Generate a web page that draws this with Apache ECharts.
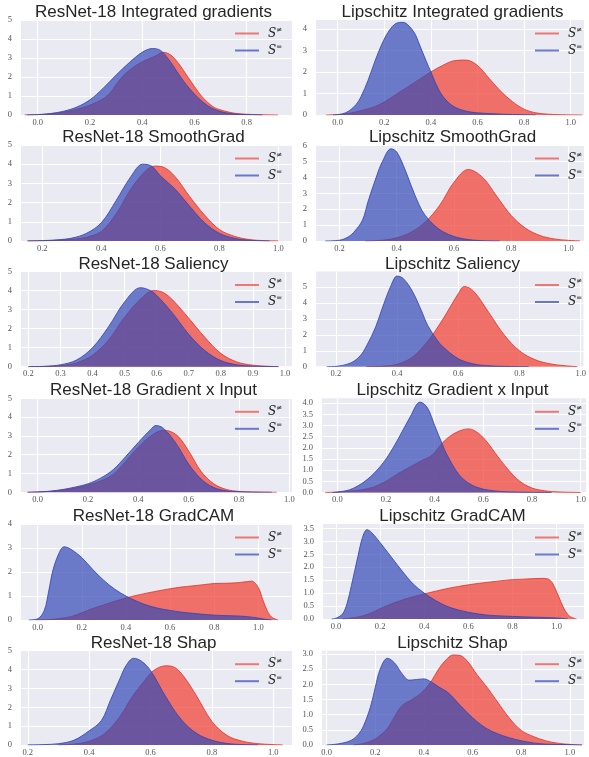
<!DOCTYPE html>
<html><head><meta charset="utf-8">
<script src="https://cdn.jsdelivr.net/npm/echarts@6/dist/echarts.min.js"></script>
<style>html,body{margin:0;padding:0;background:#fff}#c{width:589px;height:757px}</style>
</head><body><div id="c"></div>
<script>
// ---------- titles & legend ----------
const titles = ['ResNet-18 Integrated gradients', 'Lipschitz Integrated gradients',
  'ResNet-18 SmoothGrad', 'Lipschitz SmoothGrad', 'ResNet-18 Saliency', 'Lipschitz Saliency',
  'ResNet-18 Gradient x Input', 'Lipschitz Gradient x Input', 'ResNet-18 GradCAM', 'Lipschitz GradCAM',
  'ResNet-18 Shap', 'Lipschitz Shap'];
const S_NEQ = 'S≠', S_EQ = 'S=';

// ---------- tick labels ----------
const xt_00_08 = [0, 0.2, 0.4, 0.6, 0.8];
const xt_00_10 = [0, 0.2, 0.4, 0.6, 0.8, 1.0];
const xt_02_10 = [0.2, 0.4, 0.6, 0.8, 1.0];
const xt_02_10_fine = [0.2, 0.3, 0.4, 0.5, 0.6, 0.7, 0.8, 0.9, 1.0];
const yt_0_5 = [0, 1, 2, 3, 4, 5];
const yt_0_4 = [0, 1, 2, 3, 4];
const yt_0_6 = [0, 1, 2, 3, 4, 5, 6];
const yt_00_40 = [0, 0.5, 1, 1.5, 2, 2.5, 3, 3.5, 4];
const yt_00_35 = [0, 0.5, 1, 1.5, 2, 2.5, 3, 3.5];
const yt_00_30 = [0, 0.5, 1, 1.5, 2, 2.5, 3];

// ---------- series values (x = score, y = density) ----------
// ResNet-18 Integrated gradients
const rnIG_neq_x = [-0.05, 0, 0.05, 0.1, 0.15, 0.2, 0.25, 0.28, 0.3, 0.33, 0.36, 0.4, 0.45, 0.48, 0.51, 0.54, 0.57, 0.6, 0.63, 0.67, 0.7, 0.75, 0.8, 0.85, 0.92];
const rnIG_neq_y = [0, 0.02, 0.06, 0.15, 0.3, 0.52, 0.85, 1.2, 1.6, 2.1, 2.45, 2.8, 3.1, 3.3, 3.15, 2.7, 2.1, 1.5, 0.95, 0.45, 0.27, 0.1, 0.04, 0.015, 0];
const rnIG_eq_x = [-0.04, 0, 0.05, 0.1, 0.15, 0.2, 0.25, 0.3, 0.35, 0.4, 0.44, 0.47, 0.5, 0.53, 0.56, 0.6, 0.65, 0.7, 0.75, 0.8, 0.86];
const rnIG_eq_y = [0, 0.02, 0.08, 0.2, 0.42, 0.8, 1.4, 2.1, 2.75, 3.3, 3.5, 3.4, 2.95, 2.35, 1.75, 1.1, 0.5, 0.18, 0.06, 0.02, 0];
// Lipschitz Integrated gradients
const lpIG_neq_x = [-0.05, 0, 0.05, 0.1, 0.15, 0.2, 0.25, 0.3, 0.35, 0.4, 0.45, 0.5, 0.55, 0.6, 0.65, 0.7, 0.75, 0.8, 0.85, 0.9, 0.95, 1.05];
const lpIG_neq_y = [0, 0.02, 0.08, 0.2, 0.35, 0.6, 0.95, 1.3, 1.65, 2.0, 2.3, 2.52, 2.55, 2.3, 1.7, 1.1, 0.62, 0.27, 0.1, 0.04, 0.015, 0];
const lpIG_eq_x = [-0.02, 0.02, 0.05, 0.08, 0.1, 0.13, 0.16, 0.19, 0.22, 0.25, 0.28, 0.3, 0.33, 0.35, 0.38, 0.4, 0.43, 0.46, 0.5, 0.55, 0.6, 0.7, 0.8, 0.85];
const lpIG_eq_y = [0, 0.05, 0.2, 0.5, 0.85, 1.6, 2.5, 3.3, 3.9, 4.25, 4.3, 4.2, 3.8, 3.3, 2.5, 2.0, 1.25, 0.75, 0.38, 0.18, 0.1, 0.04, 0.01, 0];
// ResNet-18 SmoothGrad
const rnSG_neq_x = [0.15, 0.2, 0.25, 0.3, 0.35, 0.4, 0.45, 0.5, 0.55, 0.58, 0.61, 0.65, 0.7, 0.75, 0.8, 0.85, 0.9, 0.95, 1.0];
const rnSG_neq_y = [0, 0.01, 0.03, 0.08, 0.2, 0.5, 1.4, 2.7, 3.65, 3.9, 3.85, 3.35, 2.3, 1.35, 0.6, 0.25, 0.08, 0.02, 0];
const rnSG_eq_x = [0.15, 0.2, 0.25, 0.3, 0.35, 0.4, 0.45, 0.5, 0.54, 0.57, 0.6, 0.65, 0.7, 0.75, 0.8, 0.85, 0.9, 0.97];
const rnSG_eq_y = [0, 0.02, 0.06, 0.15, 0.4, 0.95, 2.1, 3.35, 4.0, 3.9, 3.4, 2.7, 1.8, 0.95, 0.4, 0.14, 0.04, 0];
// Lipschitz SmoothGrad
const lpSG_neq_x = [0.29, 0.35, 0.4, 0.45, 0.5, 0.55, 0.6, 0.65, 0.7, 0.75, 0.8, 0.85, 0.9, 0.95, 1.0, 1.04];
const lpSG_neq_y = [0, 0.05, 0.2, 0.55, 1.2, 2.25, 3.7, 4.5, 4.0, 2.8, 1.6, 0.8, 0.35, 0.13, 0.04, 0];
const lpSG_eq_x = [0.15, 0.2, 0.23, 0.25, 0.28, 0.3, 0.33, 0.35, 0.38, 0.4, 0.43, 0.45, 0.48, 0.5, 0.53, 0.56, 0.6, 0.65, 0.7, 0.76];
const lpSG_eq_y = [0, 0.05, 0.25, 0.55, 1.3, 2.5, 4.1, 5.0, 5.8, 5.6, 4.45, 3.5, 2.2, 1.6, 1.0, 0.6, 0.28, 0.09, 0.02, 0];
// ResNet-18 Saliency
const rnSal_neq_x = [0.2, 0.25, 0.3, 0.35, 0.4, 0.45, 0.5, 0.55, 0.59, 0.62, 0.65, 0.7, 0.75, 0.8, 0.85, 0.9, 0.95, 0.98];
const rnSal_neq_y = [0, 0.01, 0.05, 0.2, 0.6, 1.4, 2.6, 3.55, 4.0, 3.9, 3.5, 2.55, 1.55, 0.7, 0.25, 0.08, 0.02, 0];
const rnSal_eq_x = [0.2, 0.25, 0.3, 0.35, 0.4, 0.45, 0.5, 0.55, 0.58, 0.6, 0.65, 0.7, 0.75, 0.8, 0.85, 0.9, 0.98];
const rnSal_eq_y = [0, 0.02, 0.1, 0.35, 1.0, 2.1, 3.4, 4.15, 4.0, 3.75, 2.8, 1.7, 0.85, 0.32, 0.1, 0.03, 0];
// Lipschitz Saliency
const lpSal_neq_x = [0.3, 0.35, 0.4, 0.45, 0.5, 0.55, 0.6, 0.62, 0.65, 0.7, 0.75, 0.8, 0.85, 0.9, 0.95, 0.99];
const lpSal_neq_y = [0, 0.03, 0.15, 0.6, 1.6, 3.0, 4.6, 5.05, 4.75, 3.4, 2.0, 1.0, 0.45, 0.18, 0.06, 0];
const lpSal_eq_x = [0.17, 0.2, 0.25, 0.28, 0.3, 0.33, 0.35, 0.38, 0.4, 0.42, 0.45, 0.48, 0.5, 0.53, 0.55, 0.6, 0.65, 0.7, 0.75, 0.83];
const lpSal_eq_y = [0, 0.02, 0.25, 0.7, 1.3, 2.5, 3.6, 5.1, 5.7, 5.55, 4.75, 3.5, 2.6, 1.7, 1.25, 0.5, 0.17, 0.06, 0.02, 0];
// ResNet-18 Gradient x Input
const rnGxI_neq_x = [-0.04, 0, 0.05, 0.1, 0.15, 0.2, 0.25, 0.3, 0.35, 0.4, 0.45, 0.5, 0.53, 0.56, 0.6, 0.65, 0.7, 0.75, 0.8, 0.85, 0.95];
const rnGxI_neq_y = [0, 0.02, 0.05, 0.12, 0.22, 0.38, 0.6, 0.95, 1.65, 2.4, 3.0, 3.3, 3.22, 2.95, 2.2, 1.1, 0.45, 0.15, 0.05, 0.02, 0];
const rnGxI_eq_x = [-0.04, 0, 0.05, 0.1, 0.15, 0.2, 0.25, 0.3, 0.35, 0.4, 0.45, 0.47, 0.5, 0.55, 0.6, 0.65, 0.7, 0.75, 0.8, 0.85, 0.93];
const rnGxI_eq_y = [0, 0.02, 0.06, 0.15, 0.28, 0.45, 0.75, 1.2, 1.9, 2.65, 3.35, 3.55, 3.4, 2.6, 1.5, 0.7, 0.25, 0.08, 0.03, 0.01, 0];
// Lipschitz Gradient x Input
const lpGxI_neq_x = [-0.05, 0, 0.05, 0.1, 0.15, 0.2, 0.25, 0.3, 0.35, 0.38, 0.4, 0.43, 0.46, 0.5, 0.54, 0.58, 0.62, 0.65, 0.7, 0.75, 0.8, 0.85, 0.9, 1.0];
const lpGxI_neq_y = [0, 0.02, 0.06, 0.12, 0.25, 0.5, 0.85, 1.15, 1.45, 1.6, 1.8, 2.2, 2.5, 2.75, 2.85, 2.65, 2.2, 1.75, 1.05, 0.5, 0.2, 0.08, 0.03, 0];
const lpGxI_eq_x = [-0.02, 0, 0.05, 0.1, 0.15, 0.2, 0.25, 0.3, 0.34, 0.37, 0.4, 0.43, 0.45, 0.5, 0.55, 0.6, 0.65, 0.7, 0.8, 0.88];
const lpGxI_eq_y = [0, 0.02, 0.12, 0.4, 0.85, 1.5, 2.4, 3.4, 4.05, 3.8, 3.0, 2.2, 1.7, 0.8, 0.35, 0.15, 0.07, 0.03, 0.01, 0];
// ResNet-18 GradCAM
const rnCAM_neq_x = [-0.01, 0.05, 0.1, 0.15, 0.2, 0.25, 0.3, 0.35, 0.4, 0.45, 0.5, 0.55, 0.6, 0.65, 0.7, 0.75, 0.8, 0.85, 0.9, 0.95, 0.97, 1.0, 1.02, 1.04, 1.06, 1.09];
const rnCAM_neq_y = [0, 0.02, 0.06, 0.14, 0.3, 0.48, 0.63, 0.78, 0.92, 1.03, 1.13, 1.22, 1.3, 1.37, 1.42, 1.47, 1.52, 1.53, 1.55, 1.6, 1.62, 1.35, 0.85, 0.4, 0.12, 0];
const rnCAM_eq_x = [-0.04, 0, 0.03, 0.05, 0.07, 0.1, 0.12, 0.15, 0.2, 0.25, 0.3, 0.35, 0.4, 0.45, 0.5, 0.55, 0.6, 0.65, 0.7, 0.8, 0.9, 0.95, 1.0, 1.03, 1.06];
const rnCAM_eq_y = [0, 0.05, 0.4, 1.2, 2.1, 2.85, 3.05, 2.95, 2.6, 2.1, 1.65, 1.28, 1.0, 0.78, 0.6, 0.48, 0.4, 0.33, 0.28, 0.2, 0.17, 0.14, 0.08, 0.03, 0];
// Lipschitz GradCAM
const lpCAM_neq_x = [0.03, 0.1, 0.15, 0.2, 0.25, 0.3, 0.35, 0.4, 0.45, 0.5, 0.55, 0.6, 0.65, 0.7, 0.75, 0.8, 0.85, 0.9, 0.93, 0.96, 0.98, 1.0, 1.02, 1.04, 1.06, 1.09];
const lpCAM_neq_y = [0, 0.08, 0.2, 0.4, 0.58, 0.73, 0.86, 0.97, 1.07, 1.17, 1.25, 1.32, 1.38, 1.43, 1.48, 1.52, 1.54, 1.56, 1.57, 1.55, 1.4, 1.05, 0.65, 0.3, 0.1, 0];
const lpCAM_eq_x = [-0.02, 0, 0.03, 0.05, 0.07, 0.1, 0.12, 0.14, 0.16, 0.2, 0.25, 0.3, 0.35, 0.4, 0.45, 0.5, 0.55, 0.6, 0.65, 0.7, 0.8, 0.9, 1.0, 1.05];
const lpCAM_eq_y = [0, 0.03, 0.2, 0.6, 1.3, 2.45, 3.15, 3.45, 3.35, 2.95, 2.4, 1.85, 1.35, 1.0, 0.72, 0.5, 0.36, 0.26, 0.19, 0.14, 0.1, 0.07, 0.04, 0];
// ResNet-18 Shap
const rnShap_neq_x = [0.3, 0.35, 0.4, 0.45, 0.5, 0.54, 0.58, 0.61, 0.65, 0.68, 0.71, 0.75, 0.8, 0.85, 0.9, 0.95, 1.0, 1.03];
const rnShap_neq_y = [0, 0.05, 0.2, 0.6, 1.5, 2.55, 3.4, 3.95, 4.2, 4.1, 3.6, 2.6, 1.25, 0.5, 0.2, 0.07, 0.02, 0];
const rnShap_eq_x = [0.2, 0.25, 0.3, 0.35, 0.4, 0.44, 0.47, 0.5, 0.52, 0.545, 0.57, 0.6, 0.65, 0.7, 0.75, 0.8, 0.85, 0.9, 0.95];
const rnShap_eq_y = [0, 0.02, 0.07, 0.25, 0.75, 1.3, 2.4, 3.5, 4.2, 4.6, 4.45, 3.95, 2.55, 1.35, 0.62, 0.25, 0.08, 0.02, 0];
// Lipschitz Shap
const lpShap_neq_x = [0.11, 0.15, 0.2, 0.25, 0.28, 0.31, 0.34, 0.37, 0.4, 0.43, 0.46, 0.49, 0.52, 0.55, 0.58, 0.62, 0.66, 0.7, 0.75, 0.8, 0.85, 0.9, 0.95, 1.0, 1.05];
const lpShap_neq_y = [0, 0.05, 0.2, 0.55, 0.95, 1.3, 1.45, 1.6, 1.8, 2.1, 2.5, 2.8, 2.97, 2.95, 2.75, 2.3, 1.9, 1.45, 0.9, 0.48, 0.28, 0.14, 0.06, 0.02, 0];
const lpShap_eq_x = [0, 0.05, 0.1, 0.13, 0.15, 0.18, 0.2, 0.22, 0.25, 0.28, 0.31, 0.34, 0.37, 0.4, 0.43, 0.46, 0.5, 0.55, 0.6, 0.65, 0.7, 0.75, 0.8, 0.85, 0.9, 1.0, 1.05];
const lpShap_eq_y = [0, 0.04, 0.15, 0.35, 0.6, 1.25, 1.9, 2.5, 2.86, 2.7, 2.35, 2.14, 2.16, 2.18, 2.08, 1.92, 1.72, 1.3, 0.9, 0.58, 0.38, 0.24, 0.14, 0.07, 0.03, 0.01, 0];

// ---------- panel wiring (layout kept separate from data) ----------
const panels = [
  {neq:[rnIG_neq_x, rnIG_neq_y], eq:[rnIG_eq_x, rnIG_eq_y], xt:xt_00_08, yt:yt_0_5, xr:[-0.064, 0.9735], ymax:5, L:21, R:292, T:20, B:115},
  {neq:[lpIG_neq_x, lpIG_neq_y], eq:[lpIG_eq_x, lpIG_eq_y], xt:xt_00_10, yt:yt_0_4, xr:[-0.093, 1.057], ymax:4.41, L:316, R:584, T:20, B:115},
  {neq:[rnSG_neq_x, rnSG_neq_y], eq:[rnSG_eq_x, rnSG_eq_y], xt:xt_02_10, yt:yt_0_5, xr:[0.128, 1.046], ymax:5, L:21, R:292, T:145, B:241},
  {neq:[lpSG_neq_x, lpSG_neq_y], eq:[lpSG_eq_x, lpSG_eq_y], xt:xt_02_10, yt:yt_0_6, xr:[0.118, 1.054], ymax:6.04, L:316, R:584, T:145, B:241},
  {neq:[rnSal_neq_x, rnSal_neq_y], eq:[rnSal_eq_x, rnSal_eq_y], xt:xt_02_10_fine, yt:yt_0_5, xr:[0.177, 1.022], ymax:5, L:21, R:292, T:271.5, B:366.7},
  {neq:[lpSal_neq_x, lpSal_neq_y], eq:[lpSal_eq_x, lpSal_eq_y], xt:xt_02_10, yt:yt_0_5, xr:[0.135, 1.009], ymax:5.99, L:316, R:586, T:271.5, B:366.7},
  {neq:[rnGxI_neq_x, rnGxI_neq_y], eq:[rnGxI_eq_x, rnGxI_eq_y], xt:xt_00_10, yt:yt_0_5, xr:[-0.066, 1.0106], ymax:5, L:21, R:292, T:398.3, B:492.3},
  {neq:[lpGxI_neq_x, lpGxI_neq_y], eq:[lpGxI_eq_x, lpGxI_eq_y], xt:xt_00_10, yt:yt_00_40, xr:[-0.063, 1.022], ymax:4.22, L:322, R:587, T:398.3, B:492.5},
  {neq:[rnCAM_neq_x, rnCAM_neq_y], eq:[rnCAM_eq_x, rnCAM_eq_y], xt:xt_00_10, yt:yt_0_4, xr:[-0.0755, 1.1526], ymax:4, L:21, R:292, T:524, B:620},
  {neq:[lpCAM_neq_x, lpCAM_neq_y], eq:[lpCAM_eq_x, lpCAM_eq_y], xt:xt_00_10, yt:yt_00_35, xr:[-0.059, 1.124], ymax:3.67, L:323, R:584, T:524, B:619},
  {neq:[rnShap_neq_x, rnShap_neq_y], eq:[rnShap_eq_x, rnShap_eq_y], xt:xt_02_10, yt:yt_0_5, xr:[0.178, 1.061], ymax:5, L:21, R:292, T:650.7, B:746},
  {neq:[lpShap_neq_x, lpShap_neq_y], eq:[lpShap_eq_x, lpShap_eq_y], xt:xt_00_10, yt:yt_00_30, xr:[-0.019, 1.058], ymax:3.11, L:322, R:584, T:650.7, B:746}
];

const RED_FILL = 'rgba(241,59,47,0.7)', RED_LINE = 'rgba(232,55,45,0.85)', RED_LEG = 'rgba(240,80,72,0.75)';
const BLUE_FILL = 'rgba(53,74,183,0.7)', BLUE_LINE = 'rgba(50,70,180,0.85)', BLUE_LEG = 'rgba(60,80,190,0.75)';
const zip = (xs, ys) => xs.map((x, i) => [x, ys[i]]);
const LABEL_FONT = {fontFamily: 'Liberation Serif', fontSize: 8.5, color: '#555'};

const grid = [], xAxis = [], yAxis = [], series = [], title = [], legend = [];
panels.forEach((p, i) => {
  const leftCol = i % 2 === 0;
  grid.push({left: p.L, top: p.T, width: p.R - p.L, height: p.B - p.T, show: true,
    backgroundColor: '#EAEAF2', borderWidth: 0, containLabel: false});
  const yDec = p.yt.some(v => v % 1 !== 0) ? 1 : 0;
  xAxis.push({type: 'value', gridIndex: i, min: p.xr[0], max: p.xr[1],
    axisLine: {show: false}, axisTick: {show: false, customValues: p.xt},
    axisLabel: Object.assign({customValues: p.xt, margin: 3, formatter: v => v.toFixed(1)}, LABEL_FONT),
    splitLine: {show: true, lineStyle: {color: '#fff', width: 1.1}}});
  yAxis.push({type: 'value', gridIndex: i, min: 0, max: p.ymax,
    axisLine: {show: false}, axisTick: {show: false, customValues: p.yt},
    axisLabel: Object.assign({customValues: p.yt, margin: 9, formatter: v => v.toFixed(yDec)}, LABEL_FONT),
    splitLine: {show: true, lineStyle: {color: '#fff', width: 1.1}}});
  title.push({text: titles[i], left: leftCol ? 153.5 : 452.5, top: p.T - 16, textAlign: 'center', padding: 0,
    textStyle: {fontFamily: 'Liberation Sans', fontSize: 17, fontWeight: 'normal', color: '#262626'}});
  legend.push({data: [S_NEQ, S_EQ], orient: 'vertical', left: leftCol ? 235 : 535, top: p.T + 6.5,
    icon: 'rect', itemWidth: 24, itemHeight: 2, itemGap: 3, selectedMode: false, padding: 0,
    formatter: n => n === S_NEQ ? '{s|S}{p|≠}' : '{s|S}{p|=}',
    textStyle: {padding: [0, 0, 0, 4], lineHeight: 14, rich: {
      s: {fontFamily: 'DejaVu Serif', fontStyle: 'italic', fontSize: 12, color: '#222', lineHeight: 14},
      p: {fontFamily: 'DejaVu Sans', fontSize: 7, color: '#222', lineHeight: 8, verticalAlign: 'top'}}}});
  series.push({type: 'line', name: S_NEQ, xAxisIndex: i, yAxisIndex: i, data: zip(p.neq[0], p.neq[1]),
    smooth: 0.35, symbol: 'none', lineStyle: {color: RED_LINE, width: 1},
    areaStyle: {color: RED_FILL, opacity: 1, origin: 'start'}, itemStyle: {color: RED_LEG}, z: 2});
  series.push({type: 'line', name: S_EQ, xAxisIndex: i, yAxisIndex: i, data: zip(p.eq[0], p.eq[1]),
    smooth: 0.35, symbol: 'none', lineStyle: {color: BLUE_LINE, width: 1},
    areaStyle: {color: BLUE_FILL, opacity: 1, origin: 'start'}, itemStyle: {color: BLUE_LEG}, z: 3});
});

const chart = echarts.init(document.getElementById('c'), null, {renderer: 'canvas'});
chart.setOption({animation: false, backgroundColor: '#fff', title, legend, grid, xAxis, yAxis, series});
</script></body></html>
